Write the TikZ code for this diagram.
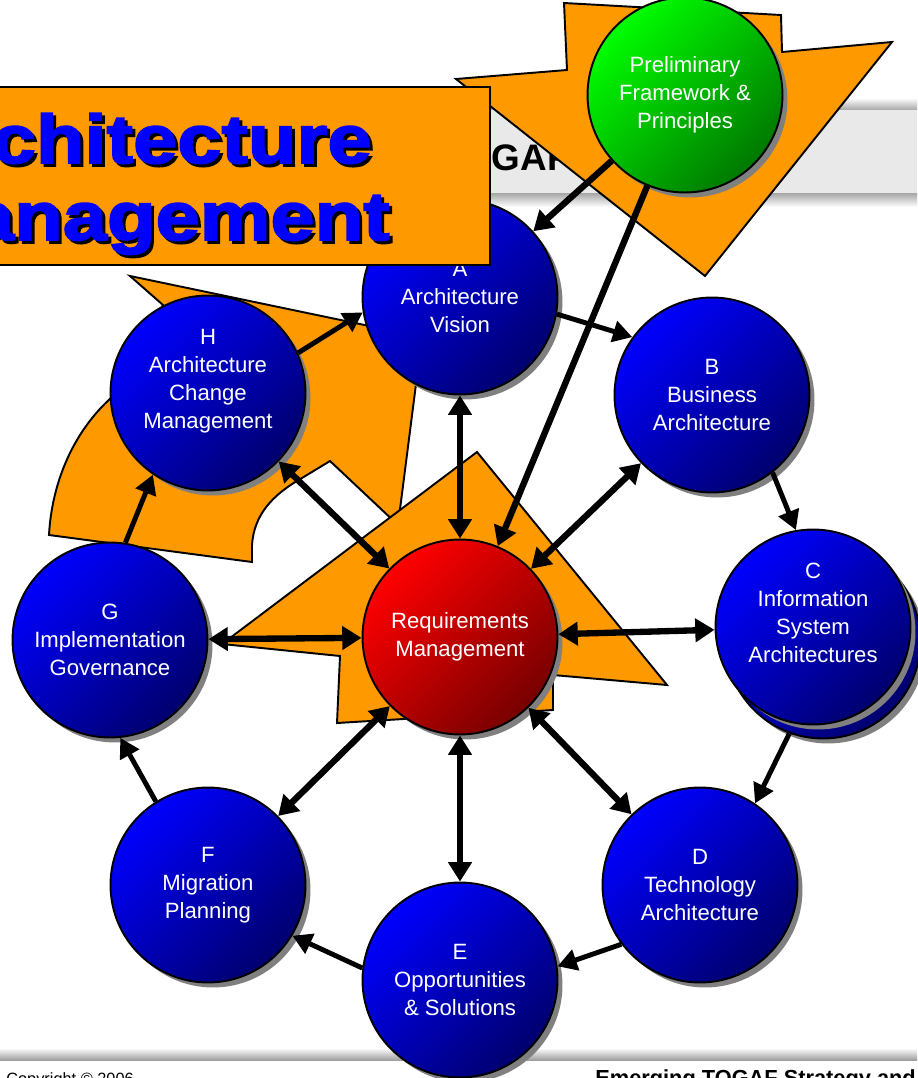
\documentclass[tikz,border=0pt]{standalone}
\usepackage{fontspec}
\setmainfont{Liberation Sans}
\newfontfamily\titlefont{Liberation Sans}[BoldFeatures={FakeStretch=1.16,FakeBold=2.5}]
\usetikzlibrary{arrows.meta,shadows}

\definecolor{tgorange}{RGB}{255,153,0}
\definecolor{tgblue}{RGB}{0,0,255}
\definecolor{tgnavy}{RGB}{0,0,110}
\definecolor{tgred}{RGB}{255,0,0}
\definecolor{tgmaroon}{RGB}{120,0,0}
\definecolor{tggreen}{RGB}{0,255,0}
\definecolor{tgdkgreen}{RGB}{0,120,0}
\definecolor{tgband}{RGB}{233,233,233}

\tikzset{
  phase/.style={circle, draw=black, line width=1.1pt, minimum size=3.9cm, inner sep=0pt,
    align=center, text=white, font=\fontsize{12.6}{15.9}\selectfont,
    drop shadow={shadow xshift=0.1cm, shadow yshift=-0.1cm, fill=gray, opacity=1}},
  bluephase/.style={phase, top color=tgblue, bottom color=tgnavy, shading angle=45},
  redphase/.style={phase, top color=tgred, bottom color=tgmaroon, shading angle=45},
  greenphase/.style={phase, top color=tggreen, bottom color=tgdkgreen, shading angle=45},
  flash/.style={fill=tgorange, draw=black, line width=1.1pt, line join=miter},
  ring/.style={line width=2.8pt, -{Triangle[length=11pt,width=12pt]}},
  feed/.style={line width=3.6pt, -{Triangle[length=11pt,width=13pt]}},
  spoke/.style={line width=3.6pt, {Triangle[length=11pt,width=13pt]}-{Triangle[length=11pt,width=13pt]}},
  bigtitle/.style={anchor=base east, inner sep=0pt, font=\titlefont\bfseries\fontsize{39}{44}\selectfont}
}

\begin{document}
\begin{tikzpicture}[x=0.02cm, y=-0.02cm]
    \useasboundingbox (0,0) rectangle (917,1078);

    % banner and footer
    \shade[top color=white, bottom color=gray!70] (480,98) rectangle (917,110);
    \fill[tgband] (480,110) rectangle (917,193);
    \shade[top color=gray!70, bottom color=white] (480,193) rectangle (917,207);
    \node[anchor=base west, inner sep=0pt, font=\bfseries\fontsize{21}{24}\selectfont] (banner) at (441,170) {TOGAF};
    \shade[top color=white, bottom color=gray!75] (0,1048) rectangle (917,1060);
    \node[anchor=base west, inner sep=0pt, font=\fontsize{9.3}{11}\selectfont] (copyright) at (6,1084) {Copyright © 2006};
    \node[anchor=base west, inner sep=0pt, font=\bfseries\fontsize{12.4}{14}\selectfont] (footer) at (595,1085) {Emerging TOGAF Strategy and};

    % orange shapes
    \filldraw[flash] (564,3) -- (781,15) -- (782,52) -- (892,42) -- (705,276) -- (456,79) -- (567,70) -- cycle;
    \filldraw[flash] (130,276) -- (422,337) -- (398,525) -- (330,461) -- (302,478)
        .. controls (272,495) and (254,515) .. (252,545) -- (252,562) -- (49,535)
        .. controls (52,480) and (75,430) .. (112,397) -- (163,305) -- cycle;
    \filldraw[flash] (477,452) -- (667,685) -- (553,675) -- (553,710) -- (337,723) -- (340,656) -- (222,644) -- cycle;

    % phases
    \node[greenphase] (Pre) at (685,95) {Preliminary\\Framework \&\\Principles};
    \node[bluephase] (A) at (460,297) {A\\Architecture\\Vision};
    \node[bluephase] (B) at (712,395) {B\\Business\\Architecture};
    \node[bluephase] (C2) at (823,641) {};
    \node[bluephase] (C) at (813,627) {C\\Information\\System\\Architectures\rule[-16pt]{0pt}{16pt}};
    \node[bluephase] (D) at (700,885) {D\\Technology\\Architecture};
    \node[bluephase] (E) at (460,980) {E\\Opportunities\\\& Solutions};
    \node[bluephase] (F) at (208,885) {F\\Migration\\Planning};
    \node[bluephase] (G) at (110,640) {G\\Implementation\\Governance};
    \node[bluephase] (H) at (208,393) {H\\Architecture\\Change\\Management\rule[-16pt]{0pt}{16pt}};
    \node[redphase] (Req) at (460,637) {Requirements\\Management};

    % cycle
    \draw[ring] (H.24) -- (A.189);
    \draw[ring] (A.-10) -- (B.144);
    \draw[ring] (B.-52) -- (C.100);
    \draw[ring] (C2.-110) -- (D.56);
    \draw[ring] (D.217) -- (E.8);
    \draw[ring] (E.173) -- (F.-31);
    \draw[ring] (F.122) -- (G.-84);
    \draw[ring] (G.81) -- (H.236);
    \draw[feed] (Pre) -- (A);
    \draw[feed] (Pre) -- (Req);
    \foreach \p in {A,B,C,D,E,F,G,H}
        \draw[spoke] (\p) -- (Req);

    % title box
    \filldraw[flash, line width=1.5pt] (-20,87) rectangle (490,265);
    \node[bigtitle, text=black] (title1s) at (375,166) {Architecture};
    \node[bigtitle, text=tgblue] (title1) at (372,163) {Architecture};
    \node[bigtitle, text=black] (title2s) at (393,243) {Management};
    \node[bigtitle, text=tgblue] (title2) at (390,240) {Management};
\end{tikzpicture}
\end{document}
